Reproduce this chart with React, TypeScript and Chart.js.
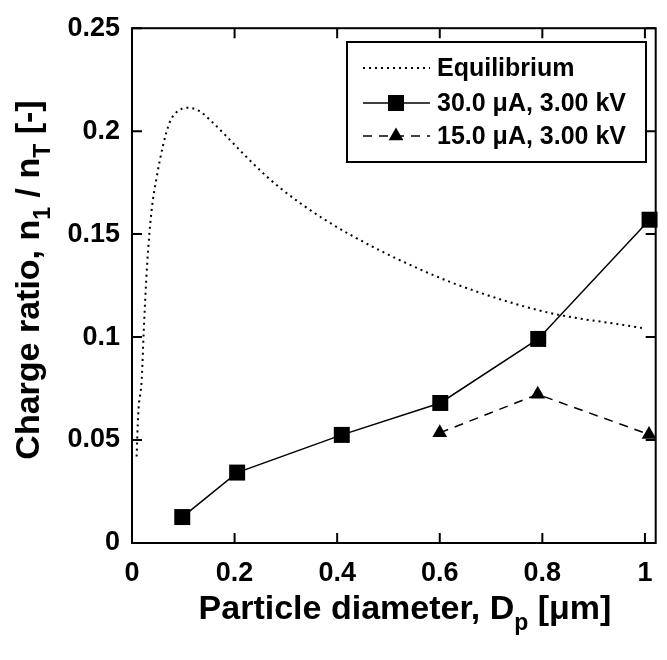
import React, { useEffect, useRef } from 'react';
import { Chart, registerables } from 'chart.js';

Chart.register(...registerables);

// ---------- data ----------
const eqX = [0.009, 0.012, 0.019, 0.023, 0.0296, 0.038, 0.0477, 0.0605, 0.073, 0.086, 0.109, 0.131, 0.154, 0.183, 0.221, 0.26, 0.292, 0.331, 0.376, 0.427, 0.492, 0.556, 0.62, 0.685, 0.749, 0.813, 0.878, 0.942, 0.994];
const eqY = [0.042, 0.062, 0.0797, 0.1036, 0.1355, 0.161, 0.177, 0.193, 0.204, 0.209, 0.2114, 0.2098, 0.205, 0.1978, 0.188, 0.1786, 0.1718, 0.1645, 0.157, 0.1495, 0.141, 0.1335, 0.1268, 0.121, 0.116, 0.1118, 0.1088, 0.1065, 0.1044];

const s30X = [0.098, 0.205, 0.409, 0.601, 0.792, 1.009];
const s30Y = [0.0126, 0.0342, 0.0525, 0.068, 0.0991, 0.157];

const s15X = [0.6, 0.791, 1.008];
const s15Y = [0.0535, 0.0722, 0.0527];

const xTickLabels = ['0', '0.2', '0.4', '0.6', '0.8', '1'];
const yTickLabels = ['0', '0.05', '0.1', '0.15', '0.2', '0.25'];

const seriesLabels = ['Equilibrium', '30.0 \u03bcA, 3.00 kV', '15.0 \u03bcA, 3.00 kV'];

const xTitleRuns = [
  { t: 'Particle diameter, D', sub: false },
  { t: 'p', sub: true },
  { t: ' [\u03bcm]', sub: false },
];
const yTitleRuns = [
  { t: 'Charge ratio, n', sub: false },
  { t: '1', sub: true },
  { t: ' / n', sub: false },
  { t: 'T', sub: true },
  { t: ' [-]', sub: false },
];

const FF = "'Liberation Sans', Arial, Helvetica, sans-serif";

function labelFor(labels: string[], v: number) {
  const f = labels.find((l) => Math.abs(Number(l) - v) < 1e-6);
  return f === undefined ? '' : f;
}

function drawRuns(ctx: CanvasRenderingContext2D, runs: { t: string; sub: boolean }[], cx: number, y: number) {
  const big = `bold 34px ${FF}`;
  const small = `bold 23px ${FF}`;
  let total = 0;
  for (const r of runs) {
    ctx.font = r.sub ? small : big;
    total += ctx.measureText(r.t).width;
  }
  let x = cx - total / 2;
  ctx.textAlign = 'left';
  ctx.textBaseline = 'alphabetic';
  for (const r of runs) {
    ctx.font = r.sub ? small : big;
    ctx.fillText(r.t, x, r.sub ? y + 11 : y);
    x += ctx.measureText(r.t).width;
  }
}

const framePlugin = {
  id: 'framePlugin',
  afterDraw(chart: any) {
    const { ctx, chartArea: a, scales } = chart;
    const xs = scales.x;
    const ys = scales.y;
    ctx.save();
    ctx.strokeStyle = '#000';
    ctx.fillStyle = '#000';
    ctx.lineWidth = 2;
    ctx.setLineDash([]);
    ctx.strokeRect(a.left, a.top, a.right - a.left, a.bottom - a.top);
    const TL = 10;
    ctx.beginPath();
    for (const t of xs.ticks) {
      const px = xs.getPixelForValue(t.value);
      ctx.moveTo(px, a.bottom);
      ctx.lineTo(px, a.bottom - TL);
      ctx.moveTo(px, a.top);
      ctx.lineTo(px, a.top + TL);
    }
    for (const t of ys.ticks) {
      const py = ys.getPixelForValue(t.value);
      ctx.moveTo(a.left, py);
      ctx.lineTo(a.left + TL, py);
      ctx.moveTo(a.right, py);
      ctx.lineTo(a.right - TL, py);
    }
    ctx.stroke();

    // legend
    const bx = 347, by = 42, bw = 299, bh = 120;
    ctx.fillStyle = '#fff';
    ctx.fillRect(bx, by, bw, bh);
    ctx.fillStyle = '#000';
    ctx.lineWidth = 2;
    ctx.strokeRect(bx, by, bw, bh);
    const rows = [68, 103, 136];
    const ds = chart.data.datasets;
    ctx.font = `bold 25px ${FF}`;
    ctx.textBaseline = 'middle';
    ctx.textAlign = 'left';
    ds.forEach((d: any, i: number) => {
      const yy = rows[i];
      ctx.save();
      ctx.lineWidth = d.borderWidth;
      ctx.setLineDash(d.borderDash || []);
      ctx.beginPath();
      ctx.moveTo(363, yy);
      ctx.lineTo(430, yy);
      ctx.stroke();
      ctx.restore();
      const mx = 396;
      if (d.pointStyle === 'rect') {
        ctx.fillRect(mx - 8, yy - 8, 16, 16);
      } else if (d.pointStyle === 'triangle') {
        const r = d.pointRadius;
        ctx.beginPath();
        ctx.moveTo(mx, yy - r);
        ctx.lineTo(mx + r * 0.866, yy + r * 0.5);
        ctx.lineTo(mx - r * 0.866, yy + r * 0.5);
        ctx.closePath();
        ctx.fill();
      }
      ctx.fillText(d.label, 437, yy + 1);
    });

    // axis titles
    drawRuns(ctx, xTitleRuns, 405, 619);
    ctx.save();
    ctx.translate(39, 280);
    ctx.rotate(-Math.PI / 2);
    drawRuns(ctx, yTitleRuns, 0, 0);
    ctx.restore();
    ctx.restore();
  },
};

export default function App() {
  const ref = useRef<HTMLCanvasElement | null>(null);
  useEffect(() => {
    if (!ref.current) return;
    const chart = new Chart(ref.current, {
      type: 'line',
      data: {
        datasets: [
          {
            label: seriesLabels[0],
            data: eqX.map((x, i) => ({ x, y: eqY[i] })),
            borderColor: '#000',
            borderWidth: 2,
            borderDash: [2, 4],
            pointRadius: 0,
            cubicInterpolationMode: 'monotone',
            fill: false,
            clip: false,
          } as any,
          {
            label: seriesLabels[1],
            data: s30X.map((x, i) => ({ x, y: s30Y[i] })),
            borderColor: '#000',
            backgroundColor: '#000',
            borderWidth: 1.5,
            pointStyle: 'rect',
            pointRadius: 11.3,
            pointBorderWidth: 0,
            pointBackgroundColor: '#000',
            tension: 0,
            fill: false,
            clip: false,
          } as any,
          {
            label: seriesLabels[2],
            data: s15X.map((x, i) => ({ x, y: s15Y[i] })),
            borderColor: '#000',
            backgroundColor: '#000',
            borderWidth: 1.5,
            borderDash: [9, 7],
            pointStyle: 'triangle',
            pointRadius: 8.5,
            pointBorderWidth: 0,
            pointBackgroundColor: '#000',
            tension: 0,
            fill: false,
            clip: false,
          } as any,
        ],
      },
      options: {
        responsive: false,
        animation: false,
        events: [],
        layout: { padding: { top: 21, right: 6, left: 0, bottom: 0 } },
        plugins: {
          legend: { display: false },
          tooltip: { enabled: false },
          title: { display: false },
        },
        scales: {
          x: {
            type: 'linear',
            min: 0,
            max: 1.021,
            afterFit: (s: any) => {
              s.height = 117;
            },
            grid: { display: false, drawTicks: false },
            border: { display: false },
            ticks: {
              stepSize: 0.2,
              includeBounds: false,
              padding: 14,
              autoSkip: false,
              maxRotation: 0,
              color: '#000',
              font: { family: FF, size: 27, weight: 'bold' },
              callback: (v: any) => labelFor(xTickLabels, Number(v)),
            },
          },
          y: {
            type: 'linear',
            min: 0,
            max: 0.25,
            afterFit: (s: any) => {
              s.width = 132;
            },
            grid: { display: false, drawTicks: false },
            border: { display: false },
            ticks: {
              stepSize: 0.05,
              includeBounds: false,
              padding: 12,
              autoSkip: false,
              color: '#000',
              font: { family: FF, size: 27, weight: 'bold' },
              callback: (v: any) => labelFor(yTickLabels, Number(v)),
            },
          },
        },
      } as any,
      plugins: [framePlugin],
    });
    return () => chart.destroy();
  }, []);
  return (
    <div style={{ position: 'absolute', left: 0, top: 0, width: 667, height: 660, background: '#fff' }}>
      <canvas ref={ref} width={667} height={660} style={{ display: 'block' }} />
    </div>
  );
}
